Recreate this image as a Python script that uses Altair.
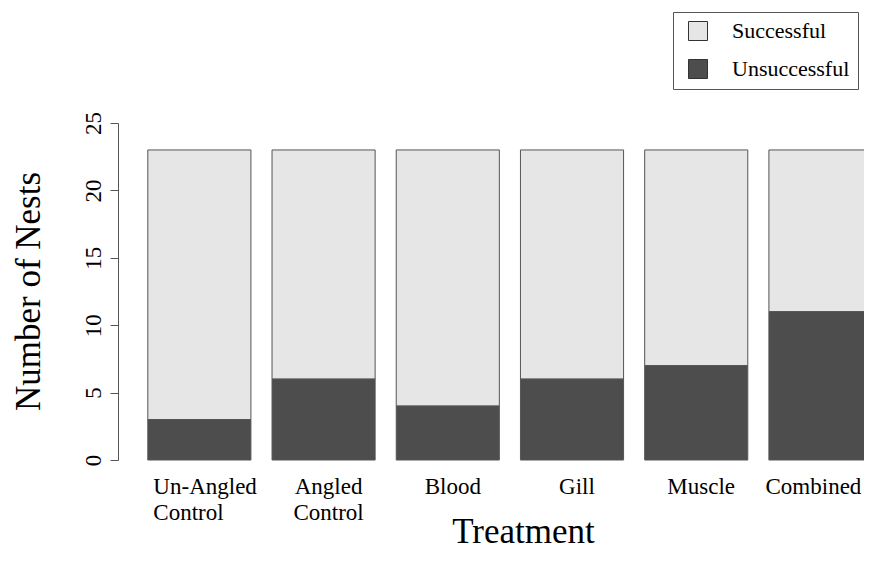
import altair as alt
import pandas as pd

treatments = ["Un-Angled Control", "Angled Control", "Blood", "Gill", "Muscle", "Combined"]
unsuccessful = [3, 6, 4, 6, 7, 11]
successful = [20, 17, 19, 17, 16, 12]
statuses = ["Successful", "Unsuccessful"]
colors = ["#E6E6E6", "#4D4D4D"]
y_ticks = [0, 5, 10, 15, 20, 25]

rows = []
for t, s, u in zip(treatments, successful, unsuccessful):
    rows.append({"treatment": t, "status": "Successful", "count": s})
    rows.append({"treatment": t, "status": "Unsuccessful", "count": u})
df = pd.DataFrame(rows)

FONT = "Liberation Serif"

label_offset_expr = (
    "datum.value == 'Un-Angled Control' ? -46 : "
    "(datum.value == 'Combined' ? -7 : 5)"
)

chart = alt.Chart(df).mark_bar(stroke="#555555", strokeWidth=1).encode(
    x=alt.X(
        "treatment:N",
        sort=treatments,
        title="Treatment",
        scale=alt.Scale(paddingInner=0.17, paddingOuter=0.12, align=1),
        axis=alt.Axis(
            domain=False, ticks=False, tickSize=0,
            labelPadding=33, labelBaseline="alphabetic", labelAngle=0,
            labelFontSize=23, labelFont=FONT, labelColor="black",
            labelLineHeight=26, labelOverlap=False, labelBound=False, labelLimit=400,
            labelExpr="split(datum.label, ' ')",
            labelAlign={"condition": {"test": "datum.value == 'Un-Angled Control'", "value": "left"}, "value": "center"},
            labelOffset={
                "condition": [
                    {"test": "datum.value == 'Un-Angled Control'", "value": -46},
                    {"test": "datum.value == 'Combined'", "value": -7},
                ],
                "value": 5,
            },
            titleFont=FONT, titleFontSize=35, titleFontWeight="normal", titleColor="black",
            titleX=405, titleY=82, titleAlign="center", titleBaseline="alphabetic", titleAngle=0,
        ),
    ),
    y=alt.Y(
        "count:Q",
        stack="zero",
        title="Number of Nests",
        scale=alt.Scale(domain=[0, 25], nice=False),
        axis=alt.Axis(
            values=y_ticks, grid=False,
            domainColor="#555555", domainWidth=1,
            tickColor="#555555", tickSize=8, tickWidth=1,
            labelAngle=270, labelAlign="center", labelBaseline="alphabetic",
            labelPadding=10, labelFont=FONT, labelFontSize=23, labelColor="black",
            labelFlush=False, labelOverlap=False,
            titleFont=FONT, titleFontSize=35, titleFontWeight="normal", titleColor="black",
            titleX=-79, titleY=168, titleAngle=270, titleAlign="center", titleBaseline="alphabetic",
        ),
    ),
    color=alt.Color(
        "status:N",
        scale=alt.Scale(domain=statuses, range=colors),
        legend=alt.Legend(
            title=None, orient="none", legendX=555, legendY=-111,
            symbolType="square", symbolSize=361, symbolStrokeColor="#333333",
            symbolStrokeWidth=1, symbolOffset=6,
            labelFont=FONT, labelFontSize=22, labelColor="black", labelOffset=23,
            rowPadding=14, padding=8, strokeColor="#555555", fillColor="white",
            cornerRadius=0,
        ),
    ),
    order=alt.Order("status:N", sort="descending"),
).properties(
    width=754,
    height=337,
    autosize=alt.AutoSizeParams(type="none"),
    padding={"left": 110, "top": 115, "right": -8, "bottom": 90},
    background="white",
).configure_view(strokeWidth=0)

chart.save("out.html", embed_options={"renderer": "svg", "actions": False})
